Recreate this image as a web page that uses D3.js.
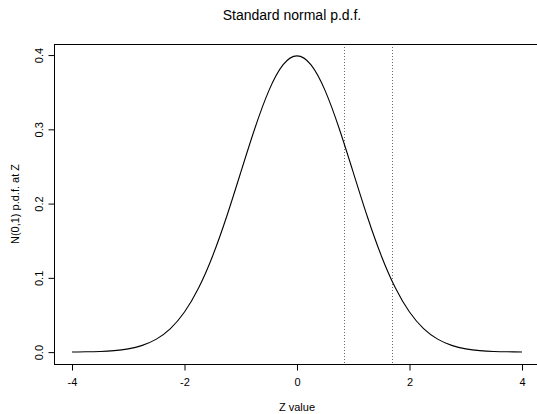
<!DOCTYPE html>
<html lang="en">
<head>
<meta charset="UTF-8">
<title>Standard normal p.d.f.</title>
<script src="https://cdn.jsdelivr.net/npm/d3@7"></script>
<style>
    html, body { margin: 0; background: #fff; }
    text { font-family: "Liberation Sans", Arial, Helvetica, sans-serif; fill: #000; }
</style>
</head>
<body>
<div id="vis"></div>
<script>
// values
var zValues = [-4, -3.75, -3.5, -3.25, -3, -2.75, -2.5, -2.25, -2, -1.75, -1.5, -1.25, -1, -0.75, -0.5, -0.25,
               0, 0.25, 0.5, 0.75, 1, 1.25, 1.5, 1.75, 2, 2.25, 2.5, 2.75, 3, 3.25, 3.5, 3.75, 4];
var densityValues = [0.0001, 0.0004, 0.0009, 0.0020, 0.0044, 0.0091, 0.0175, 0.0317, 0.0540, 0.0863, 0.1295, 0.1826,
                     0.2420, 0.3011, 0.3521, 0.3867, 0.3989, 0.3867, 0.3521, 0.3011, 0.2420, 0.1826, 0.1295, 0.0863,
                     0.0540, 0.0317, 0.0175, 0.0091, 0.0044, 0.0020, 0.0009, 0.0004, 0.0001];
var cutoffs = [0.84, 1.68];
var xTicks = [-4, -2, 0, 2, 4];
var yTicks = [0.0, 0.1, 0.2, 0.3, 0.4];

var width = 537, height = 414;
var box = { left: 54, top: 44, right: 540, bottom: 364 };

var svg = d3.select('#vis')
    .append('svg')
    .attr('width', width)
    .attr('height', height);

var x_scale = d3.scaleLinear()
    .domain([-4.32, 4.32])
    .range([box.left, box.right]);

var y_scale = d3.scaleLinear()
    .domain([-0.016, 0.4149])
    .range([box.bottom, box.top]);

var data = zValues.map(function(z, i) { return { z: z, d: densityValues[i] }; });

// cutoff lines
svg.selectAll('.cut')
    .data(cutoffs)
    .enter()
    .append('line')
    .attr('class', 'cut')
    .attr('x1', function(d) { return Math.round(x_scale(d)) + 0.5; })
    .attr('x2', function(d) { return Math.round(x_scale(d)) + 0.5; })
    .attr('y1', box.top)
    .attr('y2', box.bottom)
    .attr('stroke', '#666')
    .attr('stroke-width', 1)
    .attr('stroke-dasharray', '1,2');

// density curve
var line = d3.line()
    .x(function(d) { return x_scale(d.z); })
    .y(function(d) { return y_scale(d.d); })
    .curve(d3.curveNatural);

svg.append('path')
    .datum(data)
    .attr('d', line)
    .attr('fill', 'none')
    .attr('stroke', '#000')
    .attr('stroke-width', 1.1);

// box
svg.append('rect')
    .attr('x', box.left + 0.5)
    .attr('y', box.top + 0.5)
    .attr('width', box.right - box.left)
    .attr('height', box.bottom - box.top)
    .attr('fill', 'none')
    .attr('stroke', '#000')
    .attr('stroke-width', 1);

// x axis
var x_axis = d3.axisBottom(x_scale)
    .tickValues(xTicks)
    .tickSize(6)
    .tickPadding(8)
    .tickFormat(function(d) { return String(d); });

var gx = svg.append('g')
    .attr('transform', 'translate(0,' + (box.bottom + 0.5) + ')')
    .call(x_axis);
gx.select('.domain')
    .attr('d', 'M' + x_scale(-4) + ',0H' + x_scale(4));
gx.selectAll('text').attr('font-size', 11).attr('font-family', null);

// y axis
var y_axis = d3.axisLeft(y_scale)
    .tickValues(yTicks)
    .tickSize(6)
    .tickFormat(d3.format('.1f'));

var gy = svg.append('g')
    .attr('transform', 'translate(' + (box.left + 0.5) + ',0)')
    .call(y_axis);
gy.select('.domain')
    .attr('d', 'M0,' + y_scale(0) + 'V' + y_scale(0.4));
gy.selectAll('text')
    .attr('font-size', 11)
    .attr('font-family', null)
    .attr('x', null)
    .attr('dy', null)
    .attr('text-anchor', 'middle')
    .attr('transform', 'translate(-12,0) rotate(-90)');

// labels
svg.append('text')
    .attr('x', 292)
    .attr('y', 20)
    .attr('text-anchor', 'middle')
    .attr('font-size', 14)
    .text('Standard normal p.d.f.');

svg.append('text')
    .attr('x', 297)
    .attr('y', 411)
    .attr('text-anchor', 'middle')
    .attr('font-size', 11)
    .text('Z value');

svg.append('text')
    .attr('transform', 'translate(19,204) rotate(-90)')
    .attr('text-anchor', 'middle')
    .attr('font-size', 11)
    .text('N(0,1) p.d.f. at Z');
</script>
</body>
</html>
